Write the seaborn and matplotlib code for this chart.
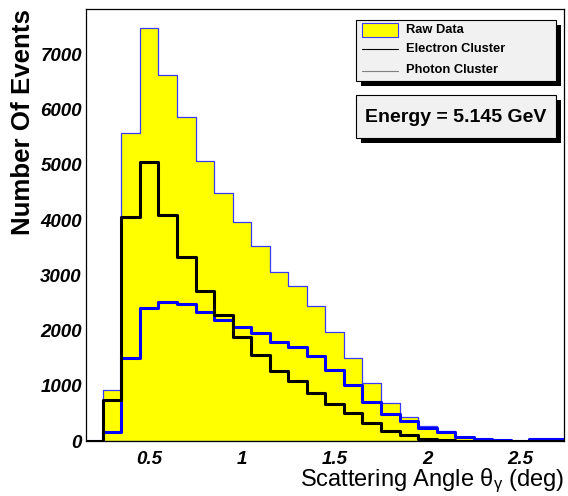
import numpy as np
import pandas as pd
import matplotlib
matplotlib.use("Agg")
import matplotlib.pyplot as plt
import seaborn as sns
from matplotlib.patches import Rectangle
from matplotlib.lines import Line2D
from matplotlib.ticker import MultipleLocator

# ---- data (bin width 0.1 deg) ----
bin_edges = [0.15, 0.25, 0.35, 0.45, 0.55, 0.65, 0.75, 0.85, 0.95, 1.05, 1.15, 1.25, 1.35,
             1.45, 1.55, 1.65, 1.75, 1.85, 1.95, 2.05, 2.15, 2.25, 2.35, 2.45, 2.55, 2.65, 2.75]
bin_centers = [0.2, 0.3, 0.4, 0.5, 0.6, 0.7, 0.8, 0.9, 1.0, 1.1, 1.2, 1.3, 1.4,
               1.5, 1.6, 1.7, 1.8, 1.9, 2.0, 2.1, 2.2, 2.3, 2.4, 2.5, 2.6, 2.7]
raw_data = [0, 920, 5570, 7470, 6620, 5860, 5070, 4495, 3960, 3525, 3055, 2800, 2437,
            1972, 1500, 1058, 684, 441, 278, 181, 78, 45, 20, 8, 30, 30]
electron = [0, 745, 4060, 5050, 4083, 3334, 2722, 2287, 1875, 1560, 1270, 1089, 877,
            666, 502, 321, 181, 103, 42, 20, 8, 3, 0, 0, 0, 0]
photon = [0, 160, 1500, 2408, 2517, 2486, 2336, 2196, 2056, 1954, 1791, 1700, 1530,
          1289, 1010, 713, 484, 360, 240, 165, 67, 32, 18, 5, 32, 32]

x_ticks = [0.5, 1, 1.5, 2, 2.5]
x_tick_labels = ["0.5", "1", "1.5", "2", "2.5"]
y_ticks = [0, 1000, 2000, 3000, 4000, 5000, 6000, 7000]
y_tick_labels = ["0", "1000", "2000", "3000", "4000", "5000", "6000", "7000"]
legend_labels = ["Raw Data", "Electron Cluster", "Photon Cluster"]
energy_text = "Energy = 5.145 GeV"

df = pd.DataFrame({"angle": bin_centers, "raw": raw_data,
                   "electron": electron, "photon": photon})

sns.set_style("white")
plt.rcParams["font.family"] = ["Liberation Sans", "DejaVu Sans"]
plt.rcParams["text.color"] = "black"
plt.rcParams["axes.labelcolor"] = "black"
plt.rcParams["xtick.color"] = "black"
plt.rcParams["ytick.color"] = "black"
plt.rcParams["mathtext.fontset"] = "custom"
plt.rcParams["mathtext.rm"] = "Liberation Sans"
plt.rcParams["mathtext.it"] = "Liberation Sans"
plt.rcParams["mathtext.bf"] = "Liberation Sans:bold"

W, H = 568, 496
fig = plt.figure(figsize=(W / 100, H / 100), dpi=100)
fig.patch.set_facecolor("white")
L, R, T, B = 86, 564, 9, 441
ax = fig.add_axes([L / W, 1 - B / H, (R - L) / W, (B - T) / H])

sns.histplot(data=df, x="angle", weights="raw", bins=bin_edges, element="step",
             fill=True, facecolor="#ffff00", edgecolor="#3a3aff", linewidth=0.9,
             alpha=1, ax=ax, zorder=1)
sns.histplot(data=df, x="angle", weights="photon", bins=bin_edges, element="step",
             fill=False, color="#0000ff", linewidth=2.2, ax=ax, zorder=2)
sns.histplot(data=df, x="angle", weights="electron", bins=bin_edges, element="step",
             fill=False, color="black", linewidth=2.2, ax=ax, zorder=3)

ax.set_xlim(0.159, 2.737)
ax.set_ylim(0, 7820)
ax.set_xticks(x_ticks)
ax.set_xticklabels(x_tick_labels)
ax.set_yticks(y_ticks)
ax.set_yticklabels(y_tick_labels)
ax.xaxis.set_minor_locator(MultipleLocator(0.1))
ax.yaxis.set_minor_locator(MultipleLocator(200))
ax.tick_params(axis="both", which="both", direction="in", top=False, right=False,
               colors="black", width=0.8)
ax.tick_params(axis="x", which="major", length=10.5, pad=7)
ax.tick_params(axis="x", which="minor", length=5)
ax.tick_params(axis="y", which="major", length=10, pad=3)
ax.tick_params(axis="y", which="minor", length=4.8)
for lab in ax.get_xticklabels() + ax.get_yticklabels():
    lab.set_fontsize(13.5)
    lab.set_fontweight("bold")
    lab.set_fontstyle("italic")
    lab.set_color("black")
for sp in ax.spines.values():
    sp.set_color("black")
    sp.set_linewidth(0.9)
ax.grid(False)

ax.set_xlabel(r"Scattering Angle $\theta_{\gamma}$ (deg)", fontsize=17, color="black")
ax.xaxis.set_label_coords(1.0, (B - 486) / (B - T))
ax.xaxis.label.set_ha("right")
ax.xaxis.label.set_va("baseline")
ax.set_ylabel("Number Of Events", fontsize=18.6, fontweight="bold", loc="top",
              color="black")
ax.yaxis.set_label_coords((35 - L) / (R - L), 1.0)


def fx(px):
    return px / W


def fy(py):
    return 1 - py / H


def box(x0, y0, x1, y1, shadow=5):
    fig.patches.append(Rectangle((fx(x0 + shadow), fy(y1 + shadow)), fx(x1 - x0), (y1 - y0) / H,
                                 transform=fig.transFigure, facecolor="black",
                                 edgecolor="none", zorder=5))
    fig.patches.append(Rectangle((fx(x0), fy(y1)), fx(x1 - x0), (y1 - y0) / H,
                                 transform=fig.transFigure, facecolor="#f1f1f1",
                                 edgecolor="black", linewidth=0.8, zorder=6))


# legend box
box(356, 20, 556, 81)
fig.patches.append(Rectangle((fx(362), fy(37)), fx(36), 14 / H, transform=fig.transFigure,
                             facecolor="#ffff00", edgecolor="#3a3aff", linewidth=0.8, zorder=7))
fig.lines.append(Line2D([fx(362), fx(398)], [fy(48.5), fy(48.5)], transform=fig.transFigure,
                        color="black", linewidth=0.8, zorder=7))
fig.lines.append(Line2D([fx(362), fx(398)], [fy(71), fy(71)], transform=fig.transFigure,
                        color="#808080", linewidth=0.8, zorder=7))
for label, yy in zip(legend_labels, [30, 49, 70]):
    fig.text(fx(406), fy(yy), label, fontsize=9.3, fontweight="bold", ha="left",
             va="center", zorder=8, color="black")

# energy box
box(356, 95, 556, 138)
fig.text(fx(456), fy(117), energy_text, fontsize=14, fontweight="bold", ha="center",
         va="center", zorder=8, color="black")

fig.savefig("out.png", dpi=100)
